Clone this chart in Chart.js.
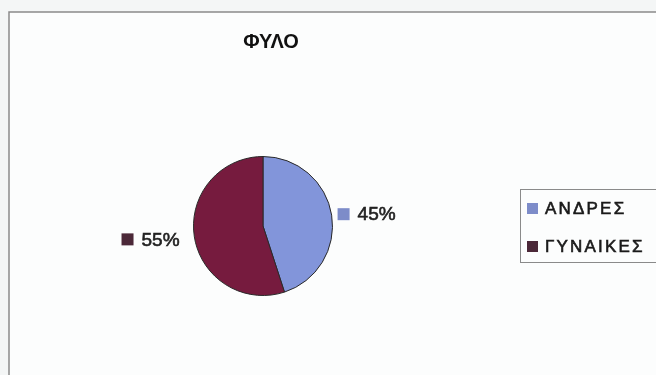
<!DOCTYPE html>
<html>
<head>
<meta charset="utf-8">
<script src="https://cdn.jsdelivr.net/npm/chart.js@4/dist/chart.umd.min.js"></script>
<style>
  html, body { margin: 0; padding: 0; background: #fbfcfc; }
  #wrap { width: 656px; height: 375px; }
</style>
</head>
<body>
<div id="wrap"><canvas id="chart" width="656" height="375"></canvas></div>
<script>
// gender split
const chartTitle = "ΦΥΛΟ";
const categories = ["ΑΝΔΡΕΣ", "ΓΥΝΑΙΚΕΣ"];
const shares = [45, 55];
const sliceColors = ["#8295da", "#761b3e"];
const markColors = ["#7d8cc9", "#4b2838"];

const FONT = "'Liberation Sans', Arial, sans-serif";

// text with a hairline stroke so it reads a bit heavier
function heavyText(ctx, txt, x, y, col) {
  ctx.fillStyle = col;
  ctx.strokeStyle = col;
  ctx.lineWidth = 0.6;
  ctx.fillText(txt, x, y);
  ctx.strokeText(txt, x, y);
}

// frame, title, outside labels and the boxed legend
const decor = {
  id: "decor",
  beforeDraw(chart) {
    let ctx = chart.ctx;
    ctx.save();
    ctx.fillStyle = "#f4f6f6";
    ctx.fillRect(0, 0, chart.width, chart.height);
    ctx.fillStyle = "#fcfdfd";
    ctx.fillRect(9, 12, chart.width - 9, chart.height - 12);
    ctx.strokeStyle = "#8a8a8a";
    ctx.lineWidth = 1.5;
    ctx.beginPath();
    ctx.moveTo(9, chart.height);
    ctx.lineTo(9, 12);
    ctx.lineTo(chart.width, 12);
    ctx.stroke();

    ctx.fillStyle = "#111";
    ctx.font = "bold 20px " + FONT;
    ctx.textAlign = "center";
    ctx.textBaseline = "middle";
    ctx.fillText(chartTitle, 271, 42);
    ctx.restore();
  },
  afterDatasetsDraw(chart) {
    let ctx = chart.ctx;
    let meta = chart.getDatasetMeta(0);
    let vals = chart.data.datasets[0].data;
    let total = vals.reduce((a, b) => a + b, 0);
    ctx.save();
    ctx.font = "19px " + FONT;
    ctx.textBaseline = "middle";
    meta.data.forEach((arc, i) => {
      let mid = (arc.startAngle + arc.endAngle) / 2;
      let right = Math.cos(mid) >= 0;
      let r = arc.outerRadius + (right ? 6 : 16);
      let x = arc.x + Math.cos(mid) * r;
      let y = arc.y + Math.sin(mid) * r;
      let txt = Math.round(vals[i] / total * 100) + "%";
      let w = ctx.measureText(txt).width;
      let left = right ? x : x - w - 19;
      ctx.fillStyle = markColors[i];
      ctx.fillRect(left, y - 6, 12, 12);
      ctx.textAlign = "left";
      heavyText(ctx, txt, left + 20, y + 1, "#222");
    });

    // legend box
    ctx.strokeStyle = "#8a8a8a";
    ctx.lineWidth = 1;
    ctx.fillStyle = "#fcfdfd";
    ctx.fillRect(521, 190, 140, 72);
    ctx.strokeRect(520.5, 189.5, 145, 73);
    ctx.font = "17px " + FONT;
    ctx.letterSpacing = "2.2px";
    chart.data.labels.forEach((lab, i) => {
      let y = 208 + i * 38;
      ctx.fillStyle = markColors[i];
      ctx.fillRect(527, y - 5, 11, 11);
      heavyText(ctx, lab, 545, y + 1, "#1a1a1a");
    });
    ctx.restore();
  }
};

new Chart(document.getElementById("chart"), {
  type: "pie",
  data: {
    labels: categories,
    datasets: [{
      data: shares,
      backgroundColor: sliceColors,
      borderColor: "#2a2a2a",
      borderWidth: 1
    }]
  },
  options: {
    responsive: false,
    animation: false,
    layout: { padding: { left: 193, right: 323, top: 156, bottom: 79 } },
    plugins: {
      legend: { display: false },
      tooltip: { enabled: false }
    }
  },
  plugins: [decor]
});
</script>
</body>
</html>
